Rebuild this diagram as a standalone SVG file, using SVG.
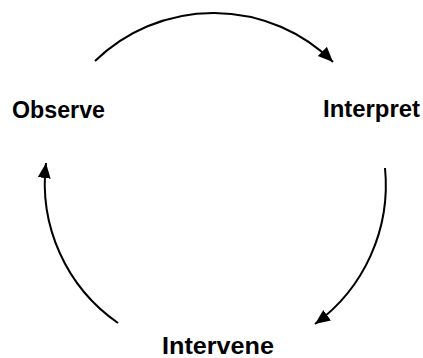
<svg xmlns="http://www.w3.org/2000/svg" width="423" height="358" viewBox="0 0 423 358">
<style>
.lbl{font-family:"Liberation Sans",Arial,Helvetica,sans-serif;font-weight:bold;font-size:23px;fill:#000}
.arc{fill:none;stroke:#000;stroke-width:2}
</style>
<defs>
<marker id="ah" markerUnits="userSpaceOnUse" markerWidth="16" markerHeight="14" refX="15" refY="6.5" orient="auto">
<path d="M0,0 L15,6.5 L0,13 z" fill="#000"/>
</marker>
</defs>
<rect width="423" height="358" fill="#fff"/>
<g id="connectors">
<path class="arc" d="M95,61 A170,170 0 0 1 333,62" marker-end="url(#ah)"/>
<path class="arc" d="M385,168 A172,172 0 0 1 315,324" marker-end="url(#ah)"/>
<path class="arc" d="M118,323 A170,170 0 0 1 46,163" marker-end="url(#ah)"/>
</g>
<g id="observe"><text class="lbl" x="12" y="118" textLength="93" lengthAdjust="spacingAndGlyphs">Observe</text></g>
<g id="interpret"><text class="lbl" x="323" y="117" textLength="97" lengthAdjust="spacingAndGlyphs">Interpret</text></g>
<g id="intervene"><text class="lbl" x="162" y="354" textLength="112" lengthAdjust="spacingAndGlyphs">Intervene</text></g>
</svg>
